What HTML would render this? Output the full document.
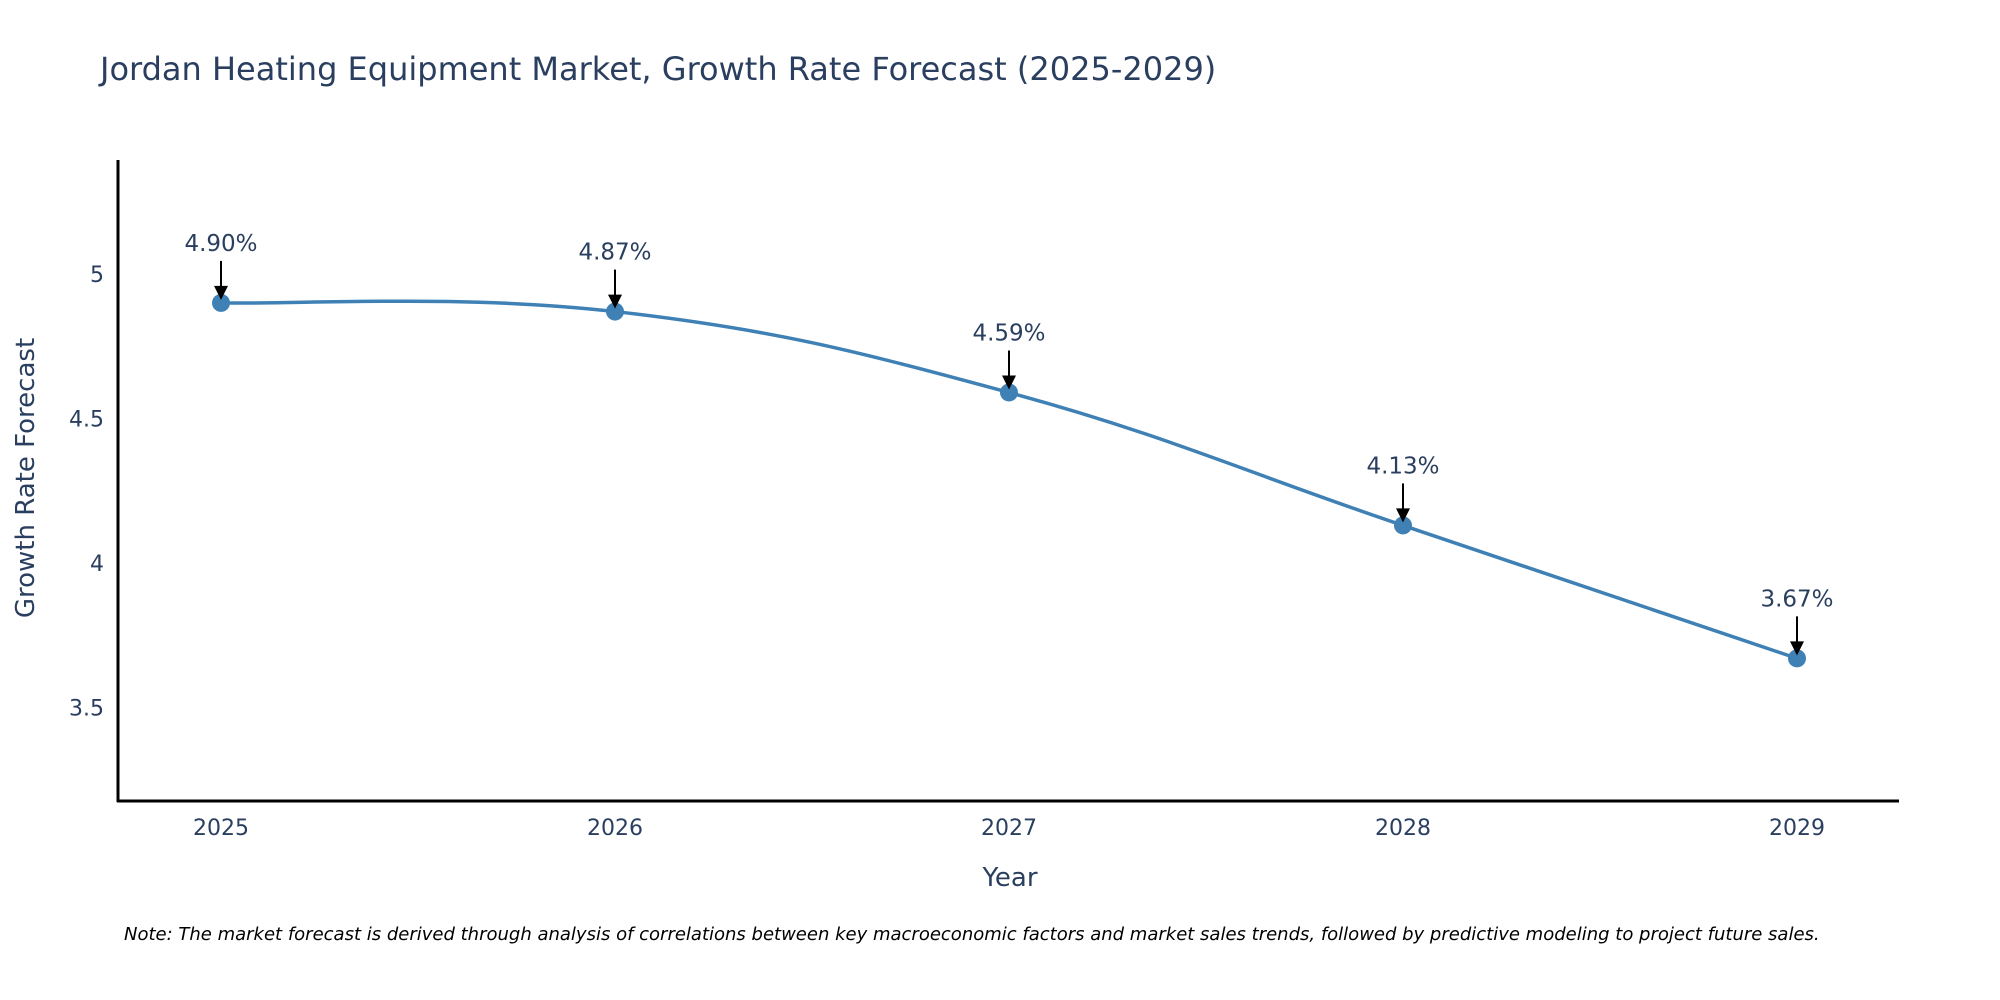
<!DOCTYPE html>
<html><head><meta charset="utf-8"><style>
body{margin:0;background:#fff;}
svg{display:block;font-family:"DejaVu Sans","Liberation Sans",sans-serif;}
</style></head><body>
<svg id="chart" width="2000" height="1000" viewBox="0 0 2000 1000">
<text x="100" y="80" font-size="32" fill="#2a3f5f">Jordan Heating Equipment Market, Growth Rate Forecast (2025-2029)</text>
<g id="yticks"></g>
<g id="xticks"></g>
<line x1="118" y1="160" x2="118" y2="802" stroke="#000" stroke-width="3"/>
<line x1="117" y1="801" x2="1899" y2="801" stroke="#000" stroke-width="3"/>
<text transform="translate(34,478) rotate(-90)" text-anchor="middle" font-size="26" fill="#2a3f5f">Growth Rate Forecast</text>
<text x="1010" y="886" text-anchor="middle" font-size="26" fill="#2a3f5f">Year</text>
<g id="series"></g>
<text x="124" y="940" font-size="18" font-style="italic" fill="#000">Note: The market forecast is derived through analysis of correlations between key macroeconomic factors and market sales trends, followed by predictive modeling to project future sales.</text>
</svg>
<script>
const years = ["2025","2026","2027","2028","2029"];
const values = [4.90, 4.87, 4.59, 4.13, 3.67];
const labels = ["4.90%","4.87%","4.59%","4.13%","3.67%"];
const yTickValues = [3.5, 4, 4.5, 5];
const yTickLabels = ["3.5","4","4.5","5"];

const NS = "http://www.w3.org/2000/svg";
function xs(i){ return 221 + i*394; }
function ys(v){ return 274 + (5 - v)*289; }
function mk(tag, attrs, parent){ const e=document.createElementNS(NS,tag); for(const k in attrs) e.setAttribute(k,attrs[k]); parent.appendChild(e); return e; }

const yt = document.getElementById('yticks');
yTickValues.forEach((v,i)=>{
  const t = mk('text',{x:104,y:ys(v)+8,'text-anchor':'end','font-size':22,fill:'#2a3f5f'},yt);
  
  
  t.textContent = yTickLabels[i];
});
const xt = document.getElementById('xticks');
years.forEach((y,i)=>{
  const t = mk('text',{x:xs(i),y:835,'text-anchor':'middle','font-size':22,fill:'#2a3f5f'},xt);
  
  
  t.textContent = y;
});

const g = document.getElementById('series');
const pts = values.map((v,i)=>[xs(i),ys(v)]);
let d = `M${pts[0][0]},${pts[0][1]}`;
const s = 0.2;
for(let i=0;i<pts.length-1;i++){
  const p0=pts[Math.max(i-1,0)], p1=pts[i], p2=pts[i+1], p3=pts[Math.min(i+2,pts.length-1)];
  const c1=[p1[0]+(p2[0]-p0[0])*s, p1[1]+(p2[1]-p0[1])*s];
  const c2=[p2[0]-(p3[0]-p1[0])*s, p2[1]-(p3[1]-p1[1])*s];
  d += ` C${c1[0]},${c1[1]} ${c2[0]},${c2[1]} ${p2[0]},${p2[1]}`;
}
const line = mk('path',{d:d,fill:'none',stroke:'#3f80b5','stroke-width':3.5},g);



pts.forEach((p,i)=>{
  const c = mk('circle',{cx:p[0],cy:p[1],r:9,fill:'#3f80b5'},g);
  
  
  const a = mk('line',{x1:p[0],y1:p[1]-42,x2:p[0],y2:p[1]-16,stroke:'#000','stroke-width':2},g);
  
  
  const h = mk('polygon',{points:`${p[0]-7},${p[1]-17} ${p[0]+7},${p[1]-17} ${p[0]},${p[1]-3}`,fill:'#000'},g);
  
  
  const t = mk('text',{x:p[0],y:p[1]-52,'text-anchor':'middle','font-size':23,fill:'#2a3f5f'},g);
  
  
  t.textContent = labels[i];
});
</script>
</body></html>
